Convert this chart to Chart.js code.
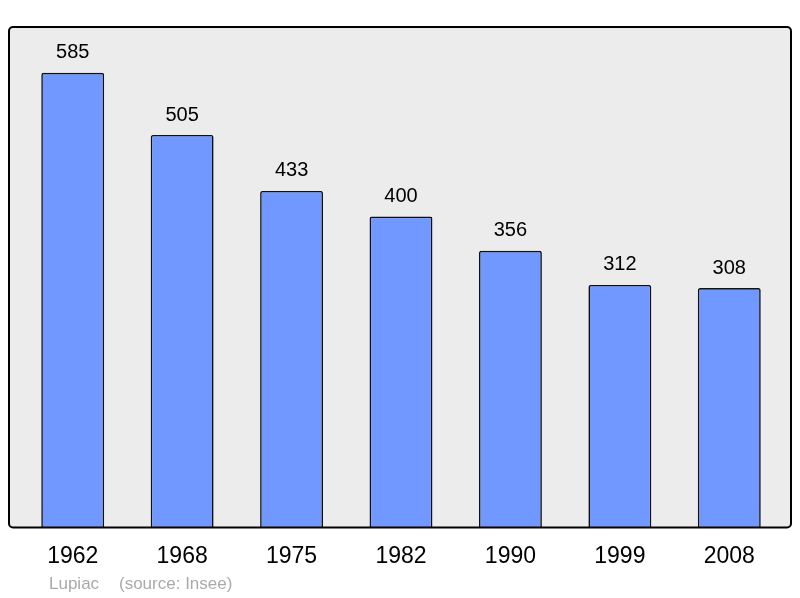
<!DOCTYPE html>
<html>
<head>
<meta charset="utf-8">
<script src="https://cdn.jsdelivr.net/npm/chart.js@4.4.1/dist/chart.umd.min.js"></script>
<style>
  html, body { margin: 0; padding: 0; background: #fff; }
  #wrap { width: 800px; height: 598px; }
</style>
</head>
<body>
<div id="wrap"><canvas id="popChart" width="800" height="598"></canvas></div>
<script>
var years = ['1962', '1968', '1975', '1982', '1990', '1999', '2008'];
var population = [585, 505, 433, 400, 356, 312, 308];
var place = 'Lupiac';
var source = '(source: Insee)';

var font = '"Liberation Sans", Arial, sans-serif';

// grey frame behind the bars, black border on top
var framePlugin = {
	id: 'frame',
	beforeDatasetsDraw: function(chart){
		var a = chart.chartArea, c = chart.ctx;
		c.save();
		c.fillStyle = '#ececec';
		c.beginPath();
		c.roundRect(a.left - 9, a.top, a.right - a.left + 16, a.bottom - a.top, 4);
		c.fill();
		c.restore();
	},
	afterDatasetsDraw: function(chart){
		var a = chart.chartArea, c = chart.ctx;
		c.save();
		c.strokeStyle = '#000';
		c.lineWidth = 2;
		c.beginPath();
		c.roundRect(a.left - 9, a.top, a.right - a.left + 16, a.bottom - a.top, 4);
		c.stroke();

		// values above bars
		c.fillStyle = '#000';
		c.font = '20px ' + font;
		c.textAlign = 'center';
		c.textBaseline = 'bottom';
		chart.getDatasetMeta(0).data.forEach(function(bar, i){
			c.fillText(population[i], bar.x, bar.y - 10);
		});

		// footer
		c.fillStyle = '#aaaaaa';
		c.font = '17px ' + font;
		c.textAlign = 'left';
		c.textBaseline = 'middle';
		c.fillText(place, 49, 584);
		c.fillText(source, 119, 584);
		c.restore();
	}
};

new Chart(document.getElementById('popChart'), {
	type: 'bar',
	data: {
		labels: years,
		datasets: [{
			data: population,
			backgroundColor: '#7098ff',
			borderColor: '#111',
			borderWidth: 1.6,
			borderRadius: 2,
			borderSkipped: 'bottom',
			barPercentage: 0.575,
			categoryPercentage: 1
		}]
	},
	options: {
		responsive: false,
		animation: false,
		layout: { padding: { left: 18, right: 16, top: 27, bottom: 21 } },
		plugins: { legend: { display: false }, tooltip: { enabled: false } },
		scales: {
			x: {
				grid: { display: false },
				border: { display: false },
				ticks: { color: '#000', font: { family: font, size: 23 }, padding: 7 }
			},
			y: {
				display: false,
				min: 0,
				max: 644
			}
		}
	},
	plugins: [framePlugin]
});
</script>
</body>
</html>
